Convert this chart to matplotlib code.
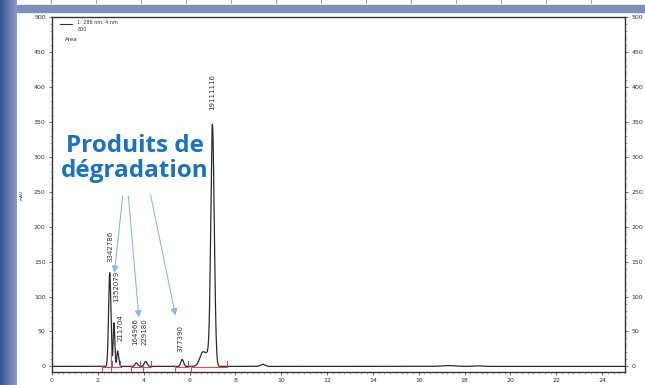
import numpy as np
import matplotlib.pyplot as plt
from matplotlib.patches import Rectangle
from matplotlib.colors import LinearSegmentedColormap

# Peaks: retention time (min), height (mAU), left/right widths
peak_rt = [2.52, 2.70, 2.86, 3.68, 4.08, 5.68, 6.55, 6.85, 7.00, 9.20, 17.3, 18.6]
peak_height = [134, 62, 22, 5, 7, 10, 12, 20, 340, 3, 1.2, 0.8]
peak_left = [0.05, 0.03, 0.03, 0.06, 0.06, 0.06, 0.12, 0.22, 0.07, 0.10, 0.30, 0.20]
peak_right = [0.05, 0.04, 0.05, 0.06, 0.07, 0.06, 0.10, 0.10, 0.08, 0.10, 0.30, 0.20]

# Area labels printed above the peaks
area_labels = ["3342786", "1352079", "211704", "164966", "229180", "377390", "19111116"]
label_x = [2.55, 2.80, 2.98, 3.64, 4.04, 5.60, 6.98]
label_y = [150, 92, 37, 30, 30, 20, 367]

# Integration marks
red_marks = [2.20, 2.58, 3.46, 3.95, 5.36, 6.06]
red_tops = [0, 20, 0, 0, 0, 0]
red_segments = [(2.20, 3.00), (3.46, 4.30), (5.36, 5.95), (6.06, 7.65)]
blue_marks = [2.62, 2.98, 3.86, 4.30, 5.93, 7.65]

# Arrows of the annotation: (start x, start y, end x, end y)
arrow_start_x = [3.10, 3.32, 4.28]
arrow_start_y = [248, 248, 249]
arrow_end_x = [2.71, 3.80, 5.41]
arrow_end_y = [130, 66, 69]

x_ticks = list(range(0, 25, 2))
y_ticks = list(range(0, 501, 50))

t = np.linspace(0, 25, 5001)
signal = np.zeros_like(t)
for rt, h, wl, wr in zip(peak_rt, peak_height, peak_left, peak_right):
    w = np.where(t < rt, wl, wr)
    signal += h * np.exp(-0.5 * ((t - rt) / w) ** 2)

fig = plt.figure(figsize=(6.45, 3.85), dpi=100)
fig.patch.set_facecolor("white")

# slide decorations: left gradient strip and top band
grad_ax = fig.add_axes([0, 0, 17 / 645, 1])
grad = np.linspace(0, 1, 50).reshape(1, -1)
cmap = LinearSegmentedColormap.from_list("strip", ["#35558f", "#8d9dc2"])
grad_ax.imshow(grad, aspect="auto", cmap=cmap)
grad_ax.axis("off")
fig.patches.append(Rectangle((17 / 645, 1 - 12 / 385), 1, 7 / 385,
                             transform=fig.transFigure, color="#7d91b8", zorder=0))
for px in range(51, 600, 45):
    fig.add_artist(plt.Line2D([px / 645, px / 645], [1 - 3 / 385, 1], transform=fig.transFigure,
                              color="#777777", lw=0.5))

ax = fig.add_axes([52 / 645, 13 / 385, 573 / 645, 355 / 385])
ax.plot(t, signal, color="#2b2b2b", lw=0.9, zorder=2)

for x0, top in zip(red_marks, red_tops):
    ax.plot([x0, x0], [-8, top], color="#ff4040", lw=0.8, zorder=3)
for a, b in red_segments:
    ax.plot([a, b], [-1.0, -1.0], color="#ff4040", lw=0.8, zorder=3)
for x0 in blue_marks:
    ax.plot([x0, x0], [0, 8], color="#5a5aff", lw=0.8, zorder=3)

for lab, lx, ly in zip(area_labels, label_x, label_y):
    ax.text(lx, ly, lab, rotation=90, ha="center", va="bottom", fontsize=5, color="#333333")

ax.text(3.62, 297, "Produits de\ndégradation", ha="center", va="center", fontsize=17.5,
        fontweight="bold", color="#1a72c2", family="Open Sans", linespacing=1.05)
for sx, sy, ex, ey in zip(arrow_start_x, arrow_start_y, arrow_end_x, arrow_end_y):
    ax.annotate("", xy=(ex, ey), xytext=(sx, sy),
                arrowprops=dict(arrowstyle="-|>,head_length=0.4,head_width=0.2",
                                color="#8ab8e8", lw=0.8))

# legend block
ax.plot([0.35, 0.87], [490, 490], color="#333333", lw=0.8)
ax.text(1.1, 493, "1: 286 nm, 4 nm", fontsize=3.5, va="center", color="#333333")
ax.text(1.1, 482, "800", fontsize=3.5, va="center", color="#333333")
ax.text(0.55, 468, "Area", fontsize=4, va="center", color="#333333")

ax.set_xlim(0, 25)
ax.set_ylim(-8, 500)
ax.set_xticks(x_ticks)
ax.set_xticks(np.arange(0, 25.01, 0.25), minor=True)
ax.set_yticks(y_ticks)
ax.set_yticks(range(0, 501, 10), minor=True)
ax.tick_params(labelsize=4.5, length=2.5, width=0.5, pad=2, colors="#333333",
               right=True, labelright=True, direction="out")
ax.tick_params(which="minor", length=1.2, width=0.4, right=True, colors="#777777")
for s in ax.spines.values():
    s.set_linewidth(1.0)
    s.set_color("#333333")
fig.text(22 / 645, 1 - 195 / 385, "mAU", rotation=90, fontsize=3, ha="center", va="center",
         color="#333333")

fig.savefig("out.png", dpi=100)
